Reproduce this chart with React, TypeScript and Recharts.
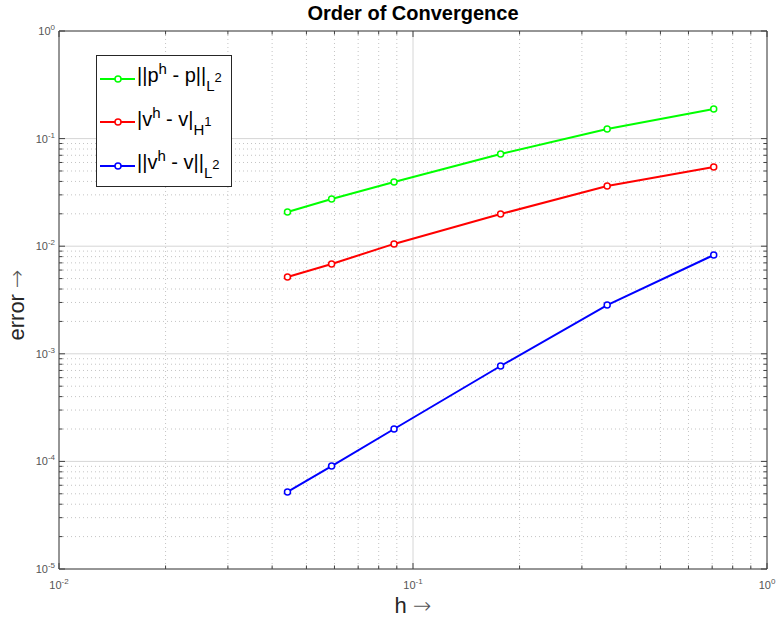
import { LineChart, Line, XAxis, YAxis, CartesianGrid, ReferenceLine, Legend } from "recharts";

// mesh size h and the three error norms
const H_VALUES = [0.0442, 0.0589, 0.0884, 0.1768, 0.3536, 0.7071];
const P_L2 = [0.0208, 0.0275, 0.0395, 0.0719, 0.1228, 0.188];
const V_H1 = [0.00517, 0.00684, 0.0105, 0.0199, 0.0363, 0.0545];
const V_L2 = [5.2e-5, 9.06e-5, 2.0e-4, 7.7e-4, 2.84e-3, 8.28e-3];

const X_MAJOR = [0.01, 0.1, 1];
const X_MINOR = [0.02, 0.03, 0.04, 0.05, 0.06, 0.07, 0.08, 0.09, 0.2, 0.3, 0.4, 0.5, 0.6, 0.7, 0.8, 0.9];
const Y_MAJOR = [1e-5, 1e-4, 1e-3, 1e-2, 1e-1, 1];
const Y_MINOR = [1, 2, 3, 4].flatMap((d) =>
  [2, 3, 4, 5, 6, 7, 8, 9].map((m) => m * Math.pow(10, -d - 1))
);
const X_TICKS = [...X_MAJOR, ...X_MINOR].sort((a, b) => a - b);
const Y_TICKS = [...Y_MAJOR, ...Y_MINOR].sort((a, b) => a - b);

const SERIES = [
  { key: "pL2", color: "#00ff00", base: "||p", sup: "h", mid: " - p||", sub: "L", subSup: "2" },
  { key: "vH1", color: "#ff0000", base: "|v", sup: "h", mid: " - v|", sub: "H", subSup: "1" },
  { key: "vL2", color: "#0000ff", base: "||v", sup: "h", mid: " - v||", sub: "L", subSup: "2" },
];

const rows = H_VALUES.map((h, i) => ({ h, pL2: P_L2[i], vH1: V_H1[i], vL2: V_L2[i] }));

const W = 777;
const H = 624;
const MARGIN = { top: 31, right: 10, bottom: 0, left: 0 };
const X_AXIS_H = 55;
const Y_AXIS_W = 59;
const PLOT_W = W - MARGIN.left - MARGIN.right - Y_AXIS_W;
const PLOT_H = H - MARGIN.top - MARGIN.bottom - X_AXIS_H;
const AXIS = "#404040";
const LABEL = "#555";
const FONT = '"Liberation Sans", Arial, Helvetica, sans-serif';

const isDecade = (v: number) => Math.abs(Math.log10(v) - Math.round(Math.log10(v))) < 1e-6;

const XTick = (props: any) => {
  const { x, y, payload } = props;
  const v = payload.value;
  const major = isDecade(v);
  const len = major ? 6 : 3.5;
  return (
    <g>
      <line x1={x} y1={y} x2={x} y2={y - len} stroke={AXIS} />
      <line x1={x} y1={y - PLOT_H} x2={x} y2={y - PLOT_H + len} stroke={AXIS} />
      {major && (
        <text x={x} y={y + 20} textAnchor="middle" fill={LABEL} fontSize={11} fontFamily={FONT}>
          <tspan>10</tspan>
          <tspan dy={-5} fontSize={8}>{Math.round(Math.log10(v))}</tspan>
        </text>
      )}
    </g>
  );
};

const YTick = (props: any) => {
  const { x, y, payload } = props;
  const v = payload.value;
  const major = isDecade(v);
  const len = major ? 6 : 3.5;
  return (
    <g>
      <line x1={x} y1={y} x2={x + len} y2={y} stroke={AXIS} />
      <line x1={x + PLOT_W} y1={y} x2={x + PLOT_W - len} y2={y} stroke={AXIS} />
      {major && (
        <text x={x - 4} y={y + 4} textAnchor="end" fill={LABEL} fontSize={11} fontFamily={FONT}>
          <tspan>10</tspan>
          <tspan dy={-5} fontSize={8}>{Math.round(Math.log10(v))}</tspan>
        </text>
      )}
    </g>
  );
};

const Arrow = () => (
  <span style={{ fontFamily: '"DejaVu Sans", sans-serif', fontWeight: 200, color: "#555" }}>→</span>
);

const renderLegend = () => (
  <div
    style={{
      width: 136,
      height: 132,
      boxSizing: "border-box",
      border: "1px solid #262626",
      background: "#fff",
      paddingTop: 1,
      fontFamily: FONT,
      color: "#000",
    }}
  >
    {SERIES.map((s) => (
      <div key={s.key} style={{ height: 43.5, display: "flex", alignItems: "center" }}>
        <svg width={38} height={12} style={{ marginLeft: 2, flex: "none" }}>
          <line x1={1} y1={6} x2={36} y2={6} stroke={s.color} strokeWidth={2} />
          <circle cx={19} cy={6} r={3} stroke={s.color} strokeWidth={1.5} fill="#fff" />
        </svg>
        <span style={{ fontSize: 20, whiteSpace: "nowrap", lineHeight: "20px", marginTop: -4 }}>
          {s.base}
          <span style={{ fontSize: 15, position: "relative", top: -8 }}>{s.sup}</span>
          {s.mid}
          <span style={{ fontSize: 15, position: "relative", top: 9 }}>
            {s.sub}
            <span style={{ fontSize: 13, position: "relative", top: -9 }}>{s.subSup}</span>
          </span>
        </span>
      </div>
    ))}
  </div>
);

export default function App() {
  return (
    <div style={{ position: "absolute", left: 0, top: 0, width: W, height: H, background: "#fff", fontFamily: FONT }}>
      <div
        style={{
          position: "absolute",
          left: MARGIN.left + Y_AXIS_W,
          width: PLOT_W,
          top: 3,
          textAlign: "center",
          fontSize: 20,
          lineHeight: "20px",
          fontWeight: "bold",
          color: "#000",
        }}
      >
        Order of Convergence
      </div>
      <div
        style={{
          position: "absolute",
          left: MARGIN.left + Y_AXIS_W,
          width: PLOT_W,
          top: 595,
          textAlign: "center",
          fontSize: 22,
          lineHeight: "22px",
          color: "#262626",
        }}
      >
        h <Arrow />
      </div>
      <div
        style={{
          position: "absolute",
          left: 17 - 60,
          top: 305 - 11,
          width: 120,
          textAlign: "center",
          fontSize: 22,
          lineHeight: "22px",
          color: "#262626",
          transform: "rotate(-90deg)",
        }}
      >
        error <Arrow />
      </div>
      <LineChart width={W} height={H} data={rows} margin={MARGIN}>
        <CartesianGrid
          verticalValues={X_MINOR}
          horizontalValues={Y_MINOR}
          stroke="#c4c4c4"
          strokeDasharray="1 3"
        />
        <CartesianGrid verticalValues={X_MAJOR} horizontalValues={Y_MAJOR} stroke="#d6d6d6" />
        <XAxis
          dataKey="h"
          type="number"
          scale="log"
          domain={[0.01, 1]}
          allowDataOverflow
          ticks={X_TICKS}
          interval={0}
          tickSize={0}
          tickMargin={0}
          tickLine={false}
          axisLine={{ stroke: AXIS }}
          tick={(p: any) => <XTick {...p} />}
          height={X_AXIS_H}
        />
        <YAxis
          type="number"
          scale="log"
          domain={[1e-5, 1]}
          allowDataOverflow
          ticks={Y_TICKS}
          interval={0}
          tickSize={0}
          tickMargin={0}
          tickLine={false}
          axisLine={{ stroke: AXIS }}
          tick={(p: any) => <YTick {...p} />}
          width={Y_AXIS_W}
        />
        <ReferenceLine x={1} stroke={AXIS} ifOverflow="visible" />
        <ReferenceLine y={1} stroke={AXIS} ifOverflow="visible" />
        {SERIES.map((s) => (
          <Line
            key={s.key}
            type="linear"
            dataKey={s.key}
            stroke={s.color}
            strokeWidth={2}
            dot={{ r: 3, stroke: s.color, strokeWidth: 1.5, fill: "#fff" }}
            activeDot={false}
            isAnimationActive={false}
          />
        ))}
        <Legend
          layout="vertical"
          align="center"
          verticalAlign="middle"
          content={renderLegend}
          wrapperStyle={{ left: 96, top: 55, width: 136, height: 132 }}
        />
      </LineChart>
    </div>
  );
}
